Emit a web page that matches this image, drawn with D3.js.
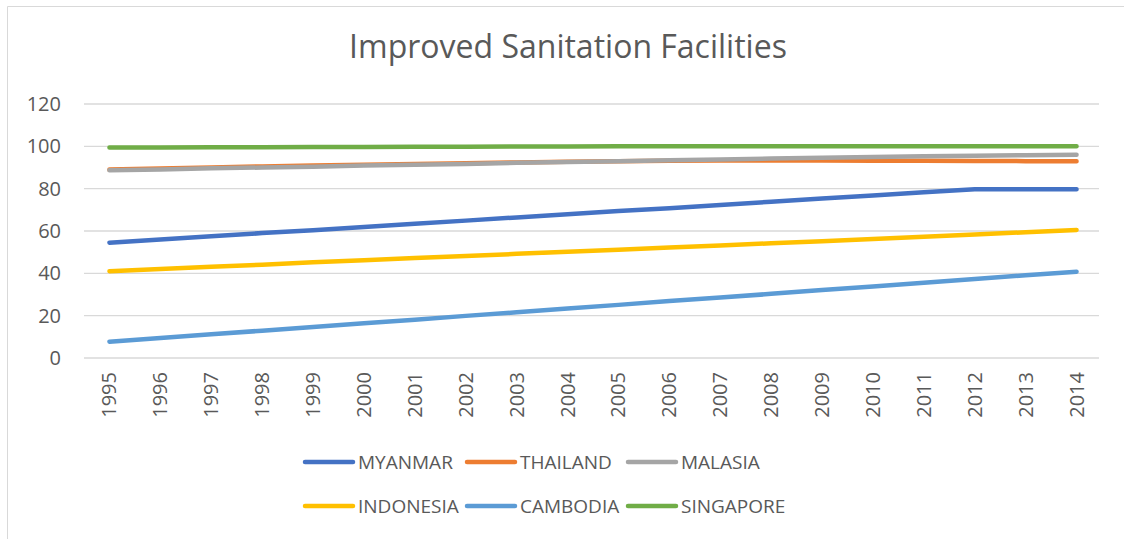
<!DOCTYPE html>
<html>
<head>
<meta charset="utf-8">
<script src="https://cdn.jsdelivr.net/npm/d3@7"></script>
<style>
  body { margin: 0; background: #fff; }
  text { font-family: "Open Sans", sans-serif; fill: #595959; }
</style>
</head>
<body>
<svg id="chart" width="1124" height="539"></svg>
<script>
var years = ["1995","1996","1997","1998","1999","2000","2001","2002","2003","2004",
  "2005","2006","2007","2008","2009","2010","2011","2012","2013","2014"];
var countries = ["MYANMAR", "THAILAND", "MALASIA", "INDONESIA", "CAMBODIA", "SINGAPORE"];
var myanmar = [54.5, 56, 57.5, 59, 60.4, 61.9, 63.4, 64.9, 66.4, 67.9, 69.4, 70.8, 72.3, 73.8, 75.3, 76.8, 78.3, 79.7, 79.7, 79.7];
var thailand = [89, 89.5, 90, 90.5, 91, 91.3, 91.7, 92, 92.4, 92.7, 93, 93.2, 93.3, 93.3, 93.3, 93.2, 93.2, 93.1, 93, 93];
var malasia = [88.7, 89.1, 89.6, 90, 90.4, 90.9, 91.3, 91.7, 92.2, 92.6, 93, 93.4, 93.8, 94.2, 94.6, 95, 95.3, 95.6, 95.8, 96];
var indonesia = [41, 42, 43.1, 44.1, 45.2, 46.2, 47.2, 48.2, 49.2, 50.2, 51.2, 52.2, 53.2, 54.2, 55.2, 56.2, 57.3, 58.4, 59.4, 60.5];
var cambodia = [7.7, 9.4, 11.2, 12.9, 14.7, 16.4, 18.1, 19.9, 21.6, 23.4, 25.1, 26.9, 28.6, 30.3, 32.1, 33.8, 35.6, 37.3, 39.1, 40.8];
var singapore = [99.5, 99.5, 99.6, 99.6, 99.7, 99.7, 99.8, 99.8, 99.9, 99.9, 100, 100, 100, 100, 100, 100, 100, 100, 100, 100];
var yTicks = [0, 20, 40, 60, 80, 100, 120];

var seriesValues = [myanmar, thailand, malasia, indonesia, cambodia, singapore];
var colors = ["#4472C4", "#ED7D31", "#A5A5A5", "#FFC000", "#5B9BD5", "#70AD47"];

var svg = d3.select("#chart");
var margin = {top: 104, left: 84, right: 22, bottom: 181};
var width = 1124 - margin.left - margin.right,
    height = 539 - margin.top - margin.bottom;

// chart frame (only left and top edges are inside the picture)
svg.append("path")
  .attr("d", "M7.5,539V6.5H1124")
  .attr("fill", "none").attr("stroke", "#d9d9d9");

svg.append("text")
  .attr("x", 568).attr("y", 58)
  .attr("text-anchor", "middle")
  .style("font-size", "32px")
  .text("Improved Sanitation Facilities");

var g = svg.append("g").attr("transform", "translate(" + margin.left + "," + margin.top + ")");

var x = d3.scaleBand().domain(years).range([0, width]);
var y = d3.scaleLinear().domain([0, 120]).range([height, 0]);

// gridlines
g.selectAll("line.grid")
  .data(yTicks)
  .enter().append("line")
    .attr("class", "grid")
    .attr("x1", 0).attr("x2", width - 3)
    .attr("y1", function (d) { return y(d); })
    .attr("y2", function (d) { return y(d); })
    .attr("stroke", "#d9d9d9")
    .attr("stroke-width", 1.3);

var yAxis = g.append("g")
  .call(d3.axisLeft(y).tickValues(yTicks).tickSize(0).tickPadding(23));
yAxis.select(".domain").remove();
yAxis.selectAll("text")
  .style("font-size", "20px")
  .style("font-family", "'Open Sans', sans-serif")
  .attr("fill", "#595959");

var xAxis = g.append("g")
  .attr("transform", "translate(0," + height + ")")
  .call(d3.axisBottom(x).tickSize(0));
xAxis.select(".domain").remove();
xAxis.selectAll("text")
  .style("font-size", "20px")
  .style("font-family", "'Open Sans', sans-serif")
  .attr("fill", "#595959")
  .attr("text-anchor", "end")
  .attr("transform", "rotate(-90)")
  .attr("x", -14)
  .attr("y", 0)
  .attr("dy", "0.35em");

var line = d3.line()
  .x(function (d, i) { return x(years[i]) + x.bandwidth() / 2; })
  .y(function (d) { return y(d); });

g.selectAll("path.series")
  .data(seriesValues)
  .enter().append("path")
    .attr("class", "series")
    .attr("d", line)
    .attr("fill", "none")
    .attr("stroke", function (d, i) { return colors[i]; })
    .attr("stroke-width", 4.5)
    .attr("stroke-linecap", "round")
    .attr("stroke-linejoin", "round");

// legend
var legendX = [305, 467, 628];
var legendY = [462, 506];
var legend = svg.selectAll("g.legend")
  .data(countries)
  .enter().append("g")
    .attr("class", "legend")
    .attr("transform", function (d, i) {
      return "translate(" + legendX[i % 3] + "," + legendY[Math.floor(i / 3)] + ")";
    });
legend.append("line")
  .attr("x1", 0).attr("x2", 48)
  .attr("stroke", function (d, i) { return colors[i]; })
  .attr("stroke-width", 4.5)
  .attr("stroke-linecap", "round");
legend.append("text")
  .attr("x", 53)
  .attr("dy", "0.36em")
  .style("font-size", "19px")
  .text(function (d) { return d; });
</script>
</body>
</html>
